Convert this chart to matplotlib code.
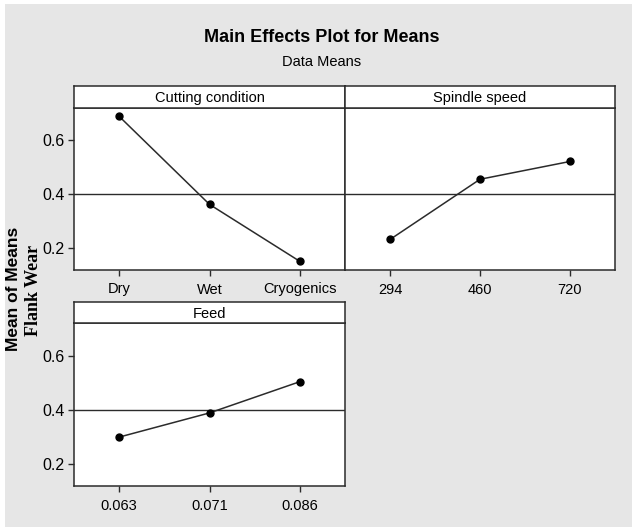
import matplotlib.pyplot as plt
from matplotlib.patches import Rectangle

# main effects (mean of means, flank wear)
cutting_levels = ["Dry", "Wet", "Cryogenics"]
cutting_means = [0.689, 0.363, 0.152]

spindle_levels = ["294", "460", "720"]
spindle_means = [0.233, 0.456, 0.522]

feed_levels = ["0.063", "0.071", "0.086"]
feed_means = [0.300, 0.389, 0.504]

grand_mean = 0.40
yticks = [0.2, 0.4, 0.6]

W, H = 632, 527
BG = "#e6e6e6"
LINE = "#2b2b2b"
SANS = ["Liberation Sans", "DejaVu Sans"]

fig = plt.figure(figsize=(W / 100, H / 100), dpi=100, facecolor="white")
fig.patches.append(Rectangle((5 / W, 0), 1 - 5 / W, 1 - 4 / H,
                             transform=fig.transFigure, facecolor=BG,
                             edgecolor="none", zorder=-10))


def px(x0, x1, y0, y1):
    # pixel box (top-left origin) -> figure fraction rect
    return [x0 / W, 1 - y1 / H, (x1 - x0) / W, (y1 - y0) / H]


def panel(x0, x1, strip_top, strip_bot, plot_bot, name, levels, means, left_ticks):
    ax = fig.add_axes(px(x0, x1, strip_bot, plot_bot))
    ax.set_facecolor("white")
    ax.plot(range(3), means, "-o", color=LINE, lw=1.1, ms=5,
            markerfacecolor="black", markeredgecolor="black")
    ax.axhline(grand_mean, color=LINE, lw=1.0, zorder=0)
    ax.set_xlim(-0.5, 2.5)
    ax.set_ylim(0.12, 0.72)
    ax.set_xticks(range(3))
    ax.set_xticklabels(levels, family=SANS, fontsize=10.5)
    ax.set_yticks(yticks)
    ax.set_yticklabels([f"{v:.1f}" for v in yticks], family=SANS, fontsize=11.5)
    ax.tick_params(direction="out", length=4, width=1, color=LINE, pad=3)
    ax.tick_params(axis="x", pad=5)
    if not left_ticks:
        ax.tick_params(axis="y", left=False, labelleft=False)
    for s in ax.spines.values():
        s.set_color(LINE)
        s.set_linewidth(1.1)

    st = fig.add_axes(px(x0, x1, strip_top, strip_bot))
    st.set_facecolor("white")
    st.set_xticks([])
    st.set_yticks([])
    for s in st.spines.values():
        s.set_color(LINE)
        s.set_linewidth(1.1)
    st.text(0.5, 0.45, name, ha="center", va="center", family=SANS,
            fontsize=10.5, transform=st.transAxes)
    return ax


panel(74, 345, 86, 108, 270, "Cutting condition", cutting_levels, cutting_means, True)
panel(345, 615, 86, 108, 270, "Spindle speed", spindle_levels, spindle_means, False)
panel(74, 345, 302, 323, 486, "Feed", feed_levels, feed_means, True)

fig.text(322 / W, 1 - 38 / H, "Main Effects Plot for Means", ha="center", va="center",
         family=SANS, fontsize=13, fontweight="bold")
fig.text(322 / W, 1 - 62 / H, "Data Means", ha="center", va="center",
         family=SANS, fontsize=10.5)

fig.text(14 / W, 1 - 289 / H, "Mean of Means", rotation=90, ha="center", va="center",
         family=SANS, fontsize=12.5, fontweight="bold")
fig.text(33 / W, 1 - 290 / H, "Flank Wear", rotation=90, ha="center", va="center",
         family=["Liberation Serif", "DejaVu Serif"], fontsize=13, fontweight="bold")

fig.savefig("out.png", dpi=100, facecolor=fig.get_facecolor())
